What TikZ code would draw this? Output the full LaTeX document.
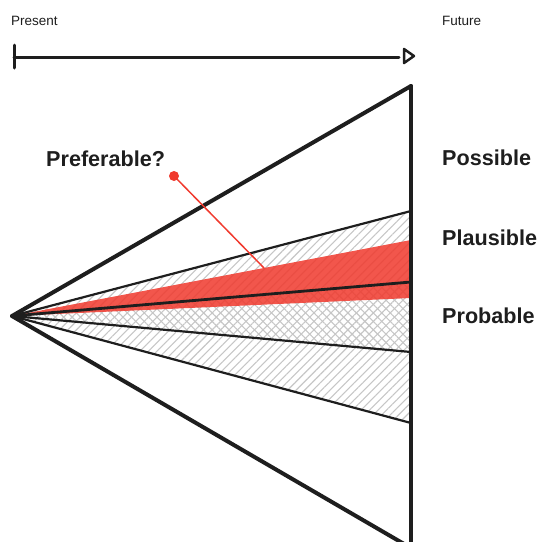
\documentclass[tikz,border=0pt]{standalone}
\usepackage{fontspec}
\setmainfont{Liberation Sans}
\usetikzlibrary{patterns.meta}
\definecolor{ink}{HTML}{1E1E1E}
\definecolor{redband}{HTML}{F03A2E}
\definecolor{hatchgray}{HTML}{C6C6C6}
\tikzset{
  biglabel/.style={anchor=base west, inner sep=0pt, text=ink, font=\bfseries\fontsize{21.6}{26}\selectfont},
  smalllabel/.style={anchor=base west, inner sep=0pt, text=ink, font=\fontsize{13.5}{15}\selectfont},
  outerline/.style={draw=ink, line width=4pt, line cap=round},
  innerline/.style={draw=ink, line width=2.2pt},
  centerline/.style={draw=ink, line width=2.8pt},
  hatchone/.style={pattern={Lines[angle=45,distance=6pt,line width=1.1pt]}, pattern color=hatchgray},
  hatchtwo/.style={pattern={Lines[angle=-45,distance=6pt,line width=1.1pt]}, pattern color=hatchgray},
}
\begin{document}
\begin{tikzpicture}[x=1pt,y=-1pt]
\useasboundingbox (0,0) rectangle (540,542);
\clip (0,0) rectangle (540,542);
% key points
\coordinate (A) at (12,316);
\coordinate (T) at (411,86);
\coordinate (B) at (411,548);
\coordinate (P1) at (411,211);
\coordinate (P2) at (411,423);
\coordinate (Q1) at (411,282);
\coordinate (Q2) at (411,352);
\coordinate (R1) at (411,240);
\coordinate (R2) at (411,298);
% hatching
\fill[hatchone] (A) -- (P1) -- (P2) -- cycle;
\fill[hatchtwo] (A) -- (Q1) -- (Q2) -- cycle;
% preferable band
\fill[redband, opacity=0.86] (A) -- (R1) -- (R2) -- cycle;
% cone lines
\draw[innerline] (A) -- (P1);
\draw[innerline] (A) -- (P2);
\draw[innerline] (A) -- (Q2);
\draw[centerline] (A) -- (Q1);
\draw[outerline] (A) -- (T);
\draw[outerline] (A) -- (B);
\draw[outerline] (T) -- (B);
% preferable pointer
\node[circle, fill=redband, inner sep=0pt, minimum size=10pt] (dot) at (174,176) {};
\coordinate (hit) at (264,268);
\draw[redband, line width=1.5pt] (dot.center) -- (hit);
% labels
\node[biglabel] (pref) at (46,166) {Preferable?};
\node[biglabel] (poss) at (442,165) {Possible};
\node[biglabel] (plau) at (442,245) {Plausible};
\node[biglabel] (prob) at (442,323) {Probable};
\node[smalllabel] (present) at (11,25) {Present};
\node[smalllabel] (future) at (442,25) {Future};
% timeline
\coordinate (t0) at (14,57);
\coordinate (t1) at (399,57);
\coordinate (tickup) at (14,45);
\coordinate (tickdn) at (14,68);
\draw[ink, line width=3pt, line cap=round] (t0) -- (t1);
\draw[ink, line width=3pt, line cap=round] (tickup) -- (tickdn);
\draw[ink, line width=2.5pt, line join=round, fill=white] (404,49) -- (404,63) -- (414,56) -- cycle;
\end{tikzpicture}
\end{document}
